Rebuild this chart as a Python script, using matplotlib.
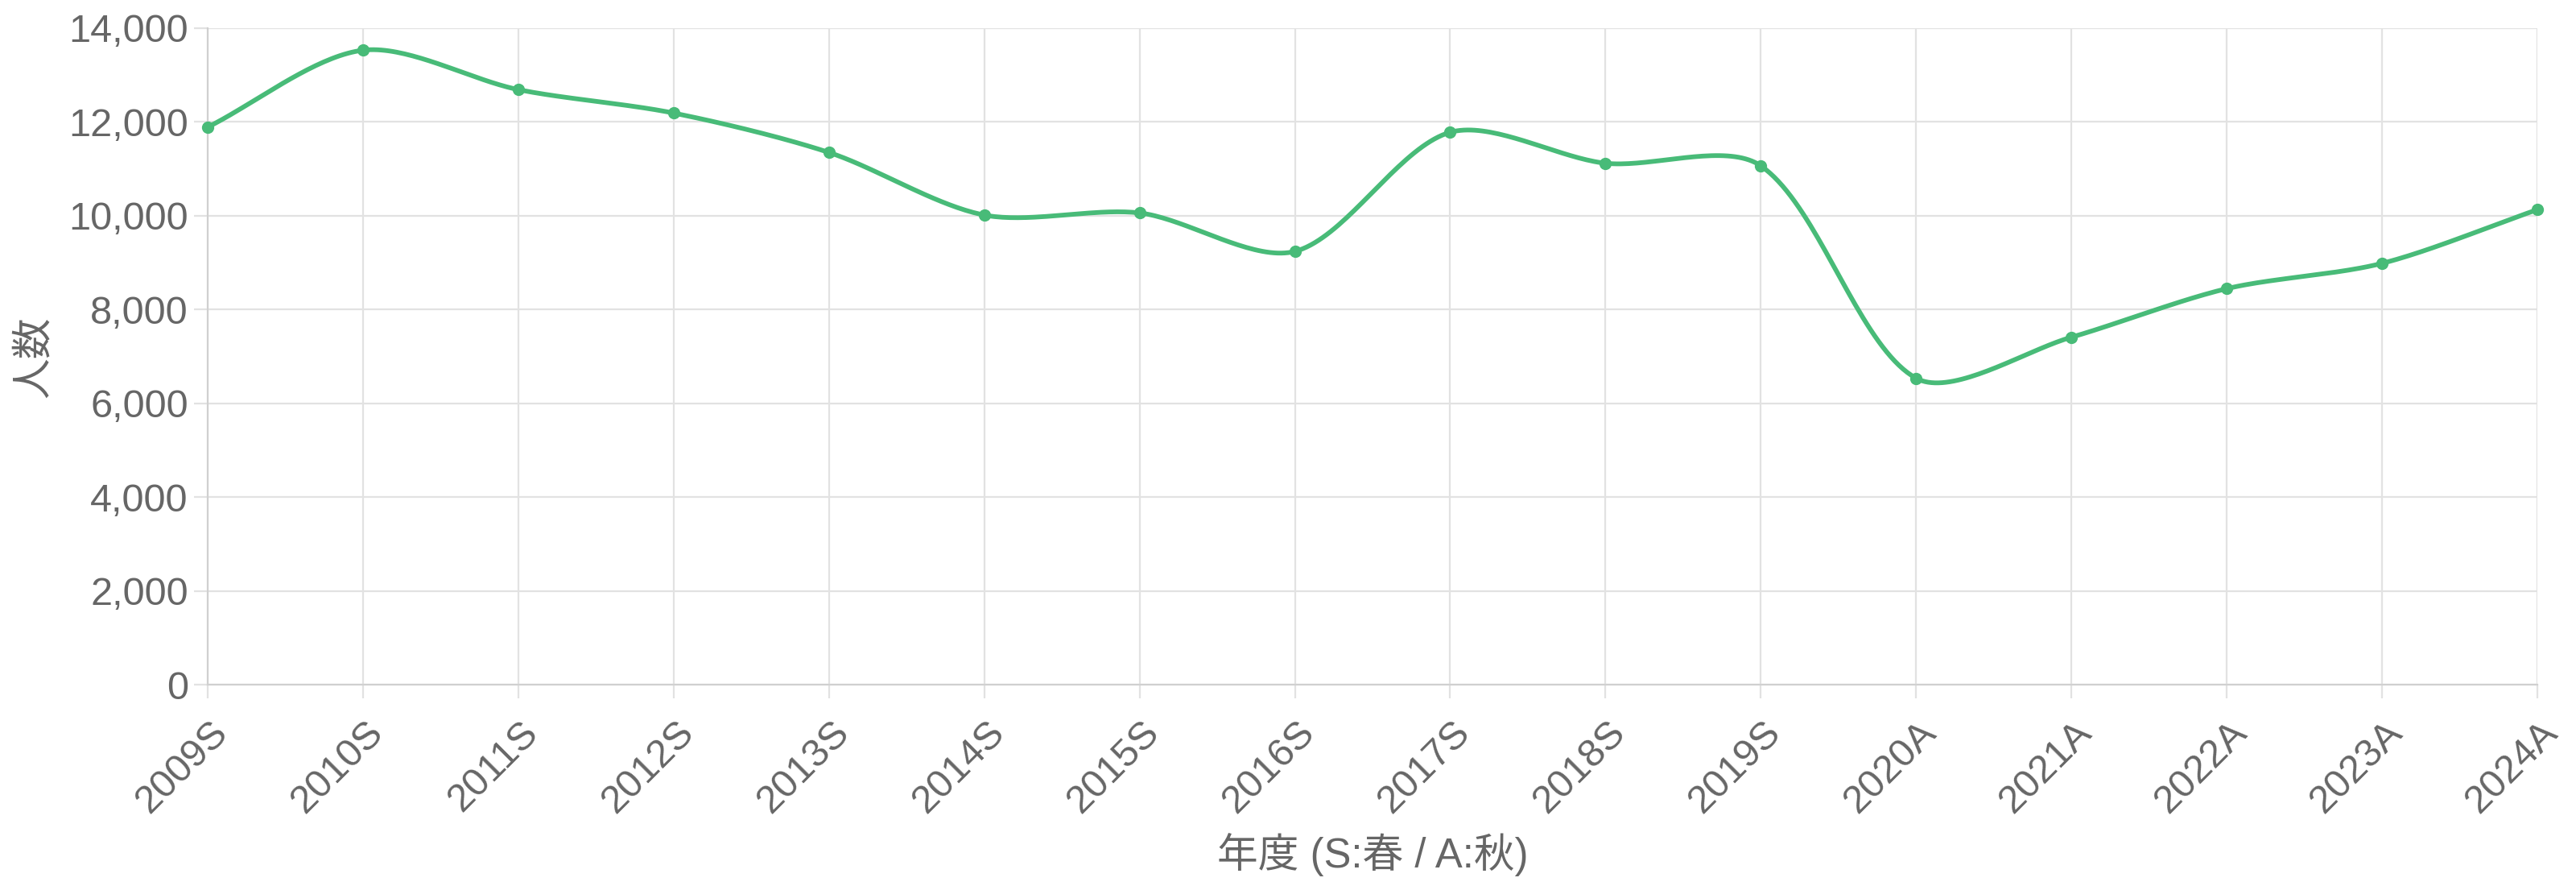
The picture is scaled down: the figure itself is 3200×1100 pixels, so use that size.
import numpy as np
import matplotlib
matplotlib.use("Agg")
import matplotlib.pyplot as plt
from matplotlib.ticker import FuncFormatter, MultipleLocator
from matplotlib.transforms import ScaledTranslation, blended_transform_factory

plt.rcParams["font.family"] = ["Liberation Sans", "Noto Sans CJK JP", "DejaVu Sans"]

# Enrolment count per term (S = spring, A = autumn)
TERMS = ["2009S", "2010S", "2011S", "2012S", "2013S", "2014S", "2015S", "2016S",
         "2017S", "2018S", "2019S", "2020A", "2021A", "2022A", "2023A", "2024A"]
COUNTS = [11890, 13530, 12690, 12190, 11350, 10015, 10060, 9240,
          11780, 11120, 11065, 6535, 7410, 8445, 8985, 10130]

Y_MAX = 14000
Y_STEP = 2000

LINE_COLOR = "#48bb78"
TEXT_COLOR = "#666666"
GRID_COLOR = "#e2e2e2"
BORDER_COLOR = "#d0d0d0"
FONT_SIZE = 35
TENSION = 0.3


def chartjs_curve(px, py, tension, steps=40):
    """Bezier curve through the points, same control points as Chart.js."""
    n = len(px)
    cp_prev = []
    cp_next = []
    for i in range(n):
        p0 = (px[max(i - 1, 0)], py[max(i - 1, 0)])
        p1 = (px[i], py[i])
        p2 = (px[min(i + 1, n - 1)], py[min(i + 1, n - 1)])
        d01 = np.hypot(p1[0] - p0[0], p1[1] - p0[1])
        d12 = np.hypot(p2[0] - p1[0], p2[1] - p1[1])
        tot = d01 + d12
        s01 = d01 / tot if tot else 0
        s12 = d12 / tot if tot else 0
        fa = tension * s01
        fb = tension * s12
        cp_prev.append((p1[0] - fa * (p2[0] - p0[0]), p1[1] - fa * (p2[1] - p0[1])))
        cp_next.append((p1[0] + fb * (p2[0] - p0[0]), p1[1] + fb * (p2[1] - p0[1])))

    t = np.linspace(0, 1, steps)
    xs, ys = [px[0]], [py[0]]
    for i in range(n - 1):
        a = np.array([px[i], py[i]])
        b = np.array(cp_next[i])
        c = np.array(cp_prev[i + 1])
        d = np.array([px[i + 1], py[i + 1]])
        seg = ((1 - t) ** 3)[:, None] * a + (3 * (1 - t) ** 2 * t)[:, None] * b \
            + (3 * (1 - t) * t ** 2)[:, None] * c + (t ** 3)[:, None] * d
        xs.extend(seg[1:, 0])
        ys.extend(seg[1:, 1])
    return np.array(xs), np.array(ys)


fig = plt.figure(figsize=(32, 11), dpi=100)
ax = fig.add_axes([258 / 3200, 1 - 850 / 1100, (3152 - 258) / 3200, (850 - 35) / 1100])

x = np.arange(len(TERMS))
ax.set_xlim(0, len(TERMS) - 1)
ax.set_ylim(0, Y_MAX)

# smooth line computed in pixel space, like the canvas renderer does
pix = ax.transData.transform(np.column_stack([x, COUNTS]))
cx, cy = chartjs_curve(pix[:, 0], pix[:, 1], TENSION)
curve = ax.transData.inverted().transform(np.column_stack([cx, cy]))
ax.plot(curve[:, 0], curve[:, 1], color=LINE_COLOR, lw=4.2, solid_capstyle="round",
        solid_joinstyle="round", zorder=3, clip_on=False)
ax.plot(x, COUNTS, "o", color=LINE_COLOR, ms=10, zorder=4, clip_on=False)

# grid and axes
ax.yaxis.set_major_locator(MultipleLocator(Y_STEP))
ax.yaxis.set_major_formatter(FuncFormatter(lambda v, _: f"{int(v):,}"))
ax.set_xticks(x)
ax.set_xticklabels([])
ax.grid(True, color=GRID_COLOR, lw=1.6)
ax.set_axisbelow(True)
for side in ["top", "right"]:
    ax.spines[side].set_visible(False)
for side in ["left", "bottom"]:
    ax.spines[side].set_color(BORDER_COLOR)
    ax.spines[side].set_linewidth(1.6)
ax.tick_params(axis="both", length=12, width=1.6, color=GRID_COLOR)
ax.tick_params(axis="y", labelsize=FONT_SIZE, labelcolor=TEXT_COLOR, pad=5.5)

# rotated x labels
trans = blended_transform_factory(ax.transData, ax.transAxes)
offset = ScaledTranslation(18 / 100, -53 / 100, fig.dpi_scale_trans)
for i, term in enumerate(TERMS):
    ax.text(i, 0, term, transform=trans + offset, rotation=45, rotation_mode="anchor",
            ha="right", va="center", fontsize=FONT_SIZE, color=TEXT_COLOR)

fig.text((258 + 3152) / 2 / 3200, 39 / 1100, "年度 (S:春 / A:秋)", ha="center",
         va="center", fontsize=36.5, color=TEXT_COLOR)
fig.text(42 / 3200, 1 - 443 / 1100, "人数", rotation=90, ha="center", va="center",
         fontsize=36.5, color=TEXT_COLOR)

fig.savefig("out.png", dpi=100, facecolor="white")
